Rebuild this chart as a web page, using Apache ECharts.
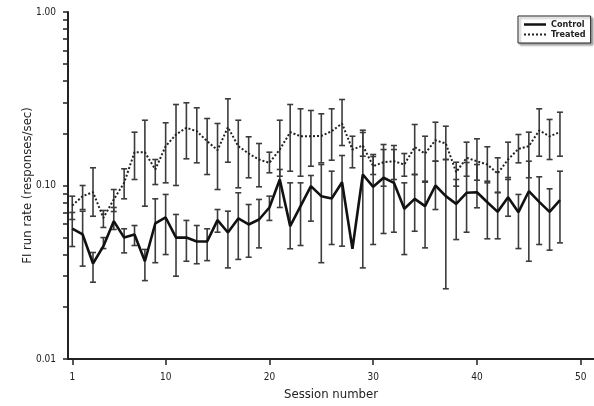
<!DOCTYPE html>
<html>
<head>
<meta charset="utf-8">
<script src="https://cdn.jsdelivr.net/npm/echarts@6/dist/echarts.min.js"></script>
<style>
html, body { margin: 0; padding: 0; background: #fff; }
#chart { width: 594px; height: 406px; }
</style>
</head>
<body>
<div id="chart"></div>
<script>
const sessions = [1, 2, 3, 4, 5, 6, 7, 8, 9, 10, 11, 12, 13, 14, 15, 16, 17, 18, 19, 20, 21, 22, 23, 24,
    25, 26, 27, 28, 29, 30, 31, 32, 33, 34, 35, 36, 37, 38, 39, 40, 41, 42, 43, 44, 45, 46, 47, 48];

const controlMean = [0.0565, 0.0522, 0.0355, 0.0447, 0.0623, 0.0501, 0.0522, 0.0366, 0.0604, 0.0654, 0.0501, 0.0501,
    0.0476, 0.0476, 0.0631, 0.0536, 0.0646, 0.0596, 0.0637, 0.0747, 0.1083, 0.0583, 0.0760, 0.0991,
    0.0868, 0.0841, 0.1045, 0.0432, 0.1157, 0.0983, 0.1108, 0.1036, 0.0734, 0.0838, 0.0760, 0.1000,
    0.0868, 0.0784, 0.0908, 0.0915, 0.0801, 0.0705, 0.0856, 0.0702, 0.0927, 0.0805, 0.0705, 0.0823];
const controlUpper = [0.0699, 0.0711, 0.0411, 0.0501, 0.0747, 0.0563, 0.0588, 0.0428, 0.0838, 0.0888, 0.0681, 0.0629,
    0.0588, 0.0563, 0.0727, 0.0711, 0.0908, 0.0777, 0.0831, 0.0868, 0.1237, 0.1036, 0.1036, 0.1142,
    0.1321, 0.1209, 0.1489, null, 0.2021, 0.1469, 0.1612, 0.1612, 0.1036, 0.1157, 0.1059, 0.1381,
    0.1412, 0.1083, 0.1357, 0.1321, 0.1036, 0.0908, 0.1112, 0.0888, 0.1381, 0.1122, 0.0957, 0.1209];
const controlLower = [0.0445, 0.0343, 0.0277, 0.0433, 0.0558, 0.0409, 0.0451, 0.0283, 0.0359, 0.0400, 0.0300, 0.0366,
    0.0354, 0.0369, 0.0538, 0.0335, 0.0375, 0.0386, 0.0437, 0.0629, 0.0747, 0.0432, 0.0451, 0.0623,
    0.0359, 0.0457, 0.0447, null, 0.0335, 0.0457, 0.0529, 0.0538, 0.0400, 0.0545, 0.0437, 0.0727,
    0.0254, 0.0488, 0.0538, 0.0744, 0.0493, 0.0493, 0.0665, 0.0433, 0.0366, 0.0457, 0.0424, 0.0467];

const treatedMean = [0.0767, 0.0868, 0.0915, 0.0651, 0.0831, 0.1036, 0.1556, 0.1556, 0.1237, 0.1685, 0.1968, 0.2151,
    0.2056, 0.1800, 0.1598, 0.2168, 0.1685, 0.1529, 0.1412, 0.1351, 0.1612, 0.2029, 0.1923, 0.1923,
    0.1930, 0.2056, 0.2277, 0.1612, 0.1700, 0.1292, 0.1362, 0.1381, 0.1321, 0.1663, 0.1529, 0.1824,
    0.1746, 0.1193, 0.1444, 0.1381, 0.1321, 0.1173, 0.1412, 0.1627, 0.1685, 0.2075, 0.1923, 0.2029];
const treatedUpper = [0.0868, 0.1000, 0.1265, 0.0718, 0.0948, 0.1248, 0.2029, 0.2378, 0.1412, 0.2298, 0.2930, 0.2997,
    0.2804, 0.2433, 0.2277, 0.3160, 0.2378, 0.1908, 0.1746, 0.1556, 0.2378, 0.2930, 0.2767, 0.2706,
    0.2589, 0.2767, 0.3131, 0.1923, 0.2083, 0.1509, 0.1723, 0.1700, 0.1529, 0.2247, 0.1923, 0.2316,
    0.2196, 0.1362, 0.1777, 0.1858, 0.1672, 0.1444, 0.1777, 0.1968, 0.2029, 0.2767, 0.2402, 0.2645];
const treatedLower = [0.0637, 0.0727, 0.0665, 0.0573, 0.0708, 0.0838, 0.1083, 0.0760, 0.1013, 0.1036, 0.1000, 0.1425,
    0.1351, 0.1157, 0.0948, 0.1362, 0.0970, 0.1108, 0.0983, 0.1184, 0.1131, 0.1209, 0.1131, 0.1292,
    0.1351, 0.1399, 0.1700, 0.1265, 0.1475, 0.1157, 0.0991, 0.1083, 0.1131, 0.1157, 0.1045, 0.1381,
    0.1412, 0.0991, 0.1131, 0.1073, 0.1059, 0.0915, 0.1083, 0.1351, 0.1108, 0.1475, 0.1412, 0.1475];

const xTickValues = [1, 10, 20, 30, 40, 50];
const yMinorTicks = [0.01, 0.02, 0.03, 0.04, 0.05, 0.06, 0.07, 0.08, 0.09,
    0.1, 0.2, 0.3, 0.4, 0.5, 0.6, 0.7, 0.8, 0.9, 1];
const yLabelValues = [0.01, 0.1, 1];

const FONT = "'DejaVu Sans Condensed', 'Liberation Sans Narrow', 'Roboto', sans-serif";
// legend icons: solid bar for control, short dashes for treated
const SOLID_ICON = "rect";
const DOTTED_ICON = "path://M0,0h2v2h-2zM4,0h2v2h-2zM8,0h2v2h-2zM12,0h2v2h-2zM16,0h2v2h-2zM20,0h2v2h-2z";

function barData(lo, hi) {
    const out = [];
    sessions.forEach((s, i) => {
        if (lo[i] != null && hi[i] != null) out.push([s, lo[i], hi[i]]);
    });
    return out;
}

function renderBar(params, api) {
    const x = api.value(0);
    const lo = api.coord([x, api.value(1)]);
    const hi = api.coord([x, api.value(2)]);
    const w = 3;
    const style = { stroke: "#3c3c3c", lineWidth: 1.6 };
    return {
        type: "group",
        children: [
            { type: "line", shape: { x1: hi[0], y1: hi[1], x2: lo[0], y2: lo[1] }, style: style },
            { type: "line", shape: { x1: hi[0] - w, y1: hi[1], x2: hi[0] + w, y2: hi[1] }, style: style },
            { type: "line", shape: { x1: lo[0] - w, y1: lo[1], x2: lo[0] + w, y2: lo[1] }, style: style },
        ],
    };
}

const chart = echarts.init(document.getElementById("chart"), null, { renderer: "canvas" });
chart.setOption({
    animation: false,
    backgroundColor: "#fff",
    grid: { left: 68, right: 0, top: 12, bottom: 47 },
    legend: {
        orient: "vertical",
        left: 518,
        top: 16,
        padding: [4, 5, 4, 6],
        itemGap: 1,
        itemWidth: 22,
        itemHeight: 2.5,
        backgroundColor: "#fff",
        borderColor: "#222",
        borderWidth: 1,
        shadowColor: "rgba(0,0,0,0.35)",
        shadowBlur: 2,
        shadowOffsetX: 2,
        shadowOffsetY: 2,
        data: [
            { name: "Control", icon: SOLID_ICON },
            { name: "Treated", icon: DOTTED_ICON },
        ],
        textStyle: { fontFamily: FONT, fontSize: 9, fontWeight: "bold", color: "#222" },
    },
    xAxis: {
        type: "value",
        min: 0.59,
        max: 51.28,
        name: "Session number",
        nameLocation: "middle",
        nameGap: 29,
        nameTextStyle: { fontFamily: FONT, fontSize: 13, color: "#222" },
        axisLine: { lineStyle: { color: "#222", width: 2 } },
        axisTick: { customValues: xTickValues, length: 6, lineStyle: { color: "#222", width: 1.5 } },
        axisLabel: { customValues: xTickValues, fontFamily: FONT, fontSize: 10, color: "#222", margin: 13 },
        splitLine: { show: false },
    },
    yAxis: {
        type: "log",
        logBase: 10,
        min: 0.01,
        max: 1,
        name: "FI run rate (responses/sec)",
        nameLocation: "middle",
        nameRotate: 90,
        nameGap: 34,
        nameMoveOverlap: false,
        nameTextStyle: { fontFamily: FONT, fontSize: 13, color: "#222" },
        axisLine: { lineStyle: { color: "#222", width: 2 } },
        axisTick: { customValues: yMinorTicks, length: 5, lineStyle: { color: "#222", width: 1.5 } },
        axisLabel: {
            customValues: yLabelValues,
            fontFamily: FONT,
            fontSize: 10,
            color: "#222",
            margin: 12,
            formatter: v => Number(v).toFixed(2),
        },
        splitLine: { show: false },
    },
    series: [
        {
            name: "ControlBars",
            type: "custom",
            renderItem: renderBar,
            encode: { x: 0, y: [1, 2] },
            data: barData(controlLower, controlUpper),
            z: 1,
        },
        {
            name: "TreatedBars",
            type: "custom",
            renderItem: renderBar,
            encode: { x: 0, y: [1, 2] },
            data: barData(treatedLower, treatedUpper),
            z: 1,
        },
        {
            name: "Control",
            type: "line",
            symbol: "none",
            data: sessions.map((s, i) => [s, controlMean[i]]),
            lineStyle: { color: "#111", width: 2.6 },
            itemStyle: { color: "#111" },
            z: 3,
        },
        {
            name: "Treated",
            type: "line",
            symbol: "none",
            data: sessions.map((s, i) => [s, treatedMean[i]]),
            lineStyle: { color: "#222", width: 2, type: [2, 2] },
            itemStyle: { color: "#222" },
            z: 3,
        },
    ],
});
</script>
</body>
</html>
